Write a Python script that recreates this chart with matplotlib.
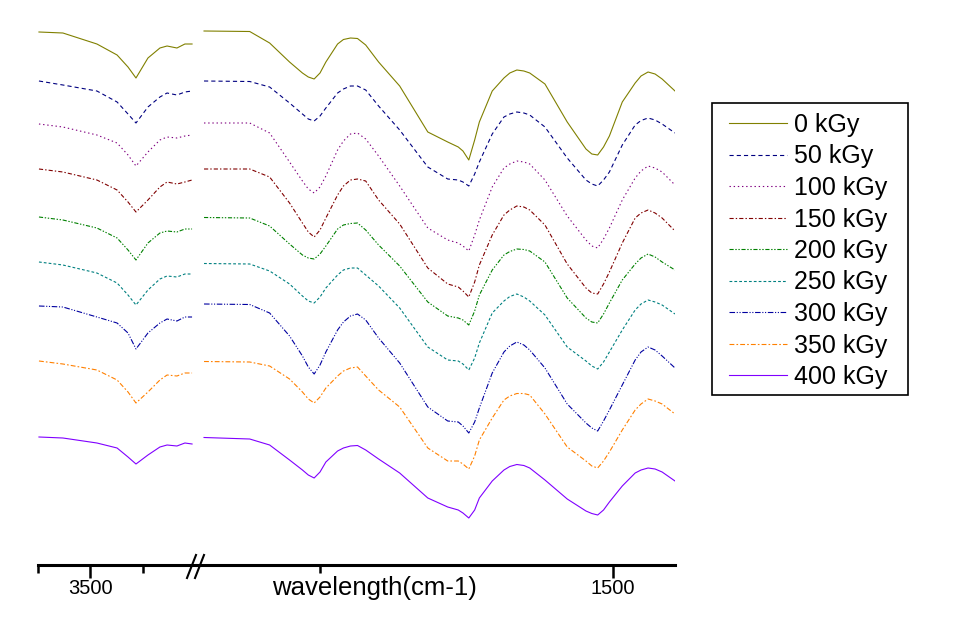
import matplotlib
matplotlib.use('Agg')
import matplotlib.pyplot as plt
from matplotlib.lines import Line2D
from matplotlib.patches import Rectangle

plt.rcParams['font.family'] = ['Liberation Sans', 'DejaVu Sans']
plt.rcParams['lines.scale_dashes'] = False

# dose labels, colours and line styles
doses = ['0 kGy', '50 kGy', '100 kGy', '150 kGy', '200 kGy',
         '250 kGy', '300 kGy', '350 kGy', '400 kGy']
colors = ['#808000', '#000080', '#800080', '#800000', '#008000',
          '#008080', '#0000A0', '#FF8000', '#8000FF']
styles = ['-', (0, (3, 2.2)), (0, (1, 2)), (0, (3, 1.5, 1, 1.5)),
          (0, (3, 1.2, 1, 1.2, 1, 1.2)), (0, (2, 1.5)),
          (0, (4, 1.2, 0.8, 1.2, 0.8, 1.2)), (0, (3.5, 1.5, 1.2, 1.5)), '-']

# wavenumbers (cm-1), high region and fingerprint region
wn_high = [3744, 3630, 3468, 3372, 3320, 3282, 3225, 3168, 3134, 3087, 3049, 3015]
wn_low = [1849, 1810, 1793, 1776, 1765, 1760, 1755, 1750, 1745, 1735, 1730, 1724, 1718,
          1711, 1700, 1682, 1658, 1641, 1632, 1628, 1623, 1618, 1614, 1603, 1593, 1588,
          1582, 1576, 1571, 1558, 1539, 1523, 1518, 1513, 1508, 1503, 1492, 1481, 1476,
          1470, 1464, 1458, 1447]

# stacked transmittance (a.u.), one list per dose
high_0 = [533, 532, 521, 510, 498, 487, 507, 517, 519, 517, 521, 521]
high_50 = [484, 480, 474, 463, 451, 442, 458, 468, 472, 470, 473, 474]
high_100 = [441, 438, 430, 422, 410, 399, 413, 425, 428, 427, 429, 430]
high_150 = [396, 393, 385, 375, 363, 353, 365, 378, 383, 381, 383, 385]
high_200 = [348, 345, 337, 327, 315, 305, 322, 332, 334, 333, 336, 336]
high_250 = [303, 300, 292, 282, 270, 260, 275, 286, 289, 288, 291, 291]
high_300 = [259, 258, 248, 242, 232, 216, 232, 242, 246, 244, 248, 248]
high_350 = [204, 201, 195, 185, 173, 162, 173, 185, 190, 189, 192, 192]
high_400 = [128, 127, 122, 117, 108, 101, 110, 118, 120, 119, 122, 121]

low_0 = [534, 533.5, 522, 503, 492, 488, 486, 492, 503, 521, 525.5, 527, 526.5, 520, 503,
         479, 433, 423, 418, 414, 405, 425, 443, 474, 487, 492, 495, 494, 492, 481, 443,
         416, 411, 410, 418, 429, 463, 482, 489, 493, 491, 486, 474]
low_50 = [484, 483.5, 478, 462, 451, 446, 444, 449, 457, 472, 476, 479, 479, 475, 459,
          435, 398, 386, 385, 383, 379, 391, 403, 431, 448, 451, 453, 452, 450, 438, 407,
          385, 381, 379, 385, 393, 420, 440, 444.5, 447, 445, 441, 432]
low_100 = [442, 442, 432, 403, 384, 376, 372, 378, 389, 415, 424, 431, 432, 426, 409,
           379, 337, 325, 322, 319, 314, 330, 345, 378, 397, 401, 404, 403, 401, 385, 349,
           325, 319, 317, 326, 337, 365, 387, 394, 399, 397, 393, 380]
low_150 = [396, 396, 388, 362, 342, 333, 328, 335, 347, 370, 379, 385, 386, 384, 365,
           341, 297, 281, 278, 274, 268, 283, 300, 330, 350, 355, 359, 358, 355, 340, 301,
           277, 272, 271, 281, 293, 322, 347, 352, 355, 352, 347, 334]
low_200 = [347.5, 347, 339, 321, 310, 307, 306, 311, 319, 336, 340, 341.5, 342, 335, 320,
           299, 263, 249, 247, 245, 240, 254, 270, 295, 310, 313.5, 316, 315.5, 314, 303, 267,
           247, 243, 242, 251, 262, 285, 301, 307, 311, 308, 303, 295]
low_250 = [301.5, 301, 294, 281, 269, 264, 262, 268, 277, 290, 295, 297, 297, 290, 279,
           257, 218, 205, 204, 201, 195, 207, 222, 252, 264, 268.5, 271, 268, 264, 250, 218,
           204, 199, 196, 203, 213, 235, 255, 261, 265, 263, 260, 251]
low_300 = [261, 260.5, 252, 229, 209, 198, 191, 200, 213, 235, 243, 249, 251, 245, 227,
           202, 158, 144, 143, 139, 132, 143, 157, 192, 213, 219, 223, 220, 215, 197, 161,
           142, 137, 134, 144, 155, 180, 205, 213, 218, 215, 209, 197]
low_350 = [203.5, 203, 199, 186, 173, 166, 162, 168, 177, 189, 194, 197, 198, 189, 175,
           158, 117, 104, 104, 101, 96, 109, 125, 147, 165, 169, 171.5, 171.5, 170, 151, 118,
           104, 99, 97, 104, 113, 135, 155, 161, 166, 164, 161, 151]
low_400 = [127.5, 126, 120, 105, 95, 90, 87, 93, 103, 114, 117, 119, 119.5, 115, 106,
           92, 67, 58, 55, 52, 47, 55, 67, 84, 95, 98.5, 100.5, 99.5, 97, 85, 66,
           54, 51.5, 50, 55, 63, 79, 92, 95, 97, 96, 93, 84]

highs = [high_0, high_50, high_100, high_150, high_200, high_250, high_300, high_350, high_400]
lows = [low_0, low_50, low_100, low_150, low_200, low_250, low_300, low_350, low_400]

W, H = 959, 632
fig = plt.figure(figsize=(W / 100, H / 100), dpi=100)
ax1 = fig.add_axes([37.7 / W, 67 / H, 157.5 / W, 545 / H])
ax2 = fig.add_axes([197 / W, 67 / H, 478 / W, 545 / H])

for hi, lo, c, ls in zip(highs, lows, colors, styles):
    ax1.plot(wn_high, hi, color=c, linestyle=ls, lw=0.8)
    ax2.plot(wn_low, lo, color=c, linestyle=ls, lw=0.8)

ax1.set_xlim(3750, 3000)
ax2.set_xlim(1855, 1447)
ax1.set_xticks([3500])
ax1.set_xticks([3750, 3250], minor=True)
ax2.set_xticks([1500])
ax2.set_xticks([1750], minor=True)

for ax in (ax1, ax2):
    ax.set_ylim(0, 545)
    ax.set_yticks([])
    for s in ('left', 'right', 'top'):
        ax.spines[s].set_visible(False)
    ax.spines['bottom'].set_linewidth(2.2)
    ax.tick_params(axis='x', which='major', direction='out', length=9, width=1.8,
                   labelsize=14.5, pad=1)
    ax.tick_params(axis='x', which='minor', direction='out', length=5.5, width=1.8)
    ax.patch.set_visible(False)

# axis break marks
for x0 in (187, 195):
    fig.add_artist(Line2D([x0 / W, (x0 + 9) / W], [1 - 578 / H, 1 - 555 / H],
                          color='black', lw=1.5))

fig.text(374 / W, 1 - 588 / H, 'wavelength(cm-1)', ha='center', va='center', fontsize=18.5)

handles = [Line2D([], [], color=c, linestyle=ls, lw=0.8) for c, ls in zip(colors, styles)]
fig.legend(handles, doses, loc='upper left', bbox_to_anchor=(729 / W, 1 - 113 / H),
           bbox_transform=fig.transFigure, frameon=False, fontsize=18,
           handlelength=2.3, handletextpad=0.3, labelspacing=0.30,
           borderpad=0, borderaxespad=0)
fig.add_artist(Rectangle((712 / W, 1 - 395 / H), 196 / W, 292 / H,
                         transform=fig.transFigure, fill=False, lw=1.2, ec='black'))

fig.savefig('out.png', dpi=100)
